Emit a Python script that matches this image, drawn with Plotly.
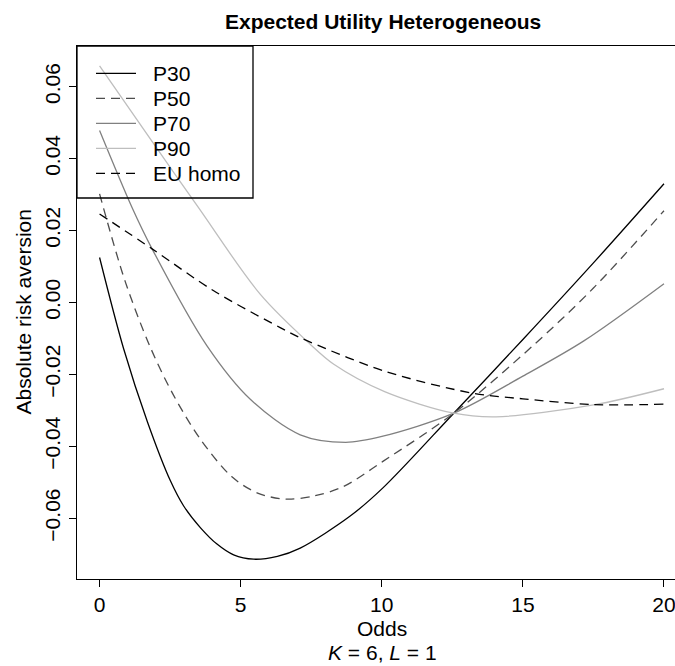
import plotly.graph_objects as go

# Absolute risk aversion against odds, read at a handful of odds values per curve
odds_p30 = [0, 0.85, 1.7, 2.51, 2.98, 3.57, 4.16, 4.75, 5.46, 6.3, 7.11, 8.88, 10.05, 12.55,
            15.0, 17.5, 20]
ara_p30 = [0.0125, -0.0128, -0.0333, -0.0496, -0.0566, -0.0626, -0.0672, -0.0702, -0.0714,
           -0.0706, -0.0683, -0.0594, -0.0515, -0.0308, -0.0103, 0.0110, 0.0330]

odds_p50 = [0, 0.9, 1.8, 2.6, 3.57, 4.69, 5.6, 6.6, 7.6, 8.64, 10.04, 12.55, 15.36, 17.5, 20]
ara_p50 = [0.0302, 0.0060, -0.0125, -0.0255, -0.0380, -0.0485, -0.0530, -0.0547, -0.0538,
           -0.0512, -0.0442, -0.0308, -0.0120, 0.0040, 0.0255]

odds_p70 = [0, 1.15, 1.86, 3.8, 5.35, 7.11, 8.72, 10.04, 12.55, 15.0, 17.16, 20]
ara_p70 = [0.0478, 0.0264, 0.0149, -0.0120, -0.0270, -0.0368, -0.0389, -0.0372, -0.0308,
           -0.0205, -0.0107, 0.0052]

odds_p90 = [0, 1.68, 3.5, 5.69, 7.46, 8.3, 10.1, 12.55, 14.05, 17.5, 20]
ara_p90 = [0.0658, 0.0468, 0.0264, 0.0023, -0.0116, -0.0172, -0.0248, -0.0308, -0.0318,
           -0.0285, -0.0240]

odds_eu = [0, 1.86, 4.03, 6.4, 7.11, 10.1, 13.2, 15.0, 17.5, 20]
ara_eu = [0.0246, 0.0149, 0.0033, -0.0070, -0.0098, -0.0191, -0.0252, -0.0268, -0.0284, -0.0283]

x_ticks = [0, 5, 10, 15, 20]
y_ticks = [-0.06, -0.04, -0.02, 0.00, 0.02, 0.04, 0.06]
y_tick_text = ["\u22120.06", "\u22120.04", "\u22120.02", "0.00", "0.02", "0.04", "0.06"]

FONT = "Liberation Sans, Arial, Helvetica, sans-serif"
FS = 21

series = [
    ("P30", odds_p30, ara_p30, "#000000", "solid"),
    ("P50", odds_p50, ara_p50, "#4d4d4d", "9px,6px"),
    ("P70", odds_p70, ara_p70, "#808080", "solid"),
    ("P90", odds_p90, ara_p90, "#bebebe", "solid"),
    ("EU homo", odds_eu, ara_eu, "#000000", "9px,6px"),
]

fig = go.Figure()
for name, xs, ys, color, dash in series:
    fig.add_trace(go.Scatter(
        x=xs, y=ys, name=name, mode="lines", showlegend=False,
        line=dict(color=color, width=1.3, dash=dash, shape="spline", smoothing=0.9),
    ))

# Plot area in pixels: left 77, top 46, bottom 579, right edge of the page
W, H = 675, 666
L, T, B = 77, 46, 87
PW, PH = W - L, H - T - B


def px_x(px):
    return (px - L) / PW


def px_y(py):
    return (H - B - py) / PH


# Legend drawn as an unfilled box with line samples and labels
shapes = [dict(type="rect", xref="paper", yref="paper", x0=0, x1=px_x(253),
               y0=px_y(198), y1=1, line=dict(color="black", width=1.3), layer="above")]
annotations = []
for i, (name, _, _, color, dash) in enumerate(series):
    yy = px_y(73.3 + 25 * i)
    shapes.append(dict(type="line", xref="paper", yref="paper", x0=px_x(96), x1=px_x(136),
                       y0=yy, y1=yy, line=dict(color=color, width=1.3, dash=dash)))
    annotations.append(dict(text=name, xref="paper", yref="paper", x=px_x(151), y=yy,
                            xanchor="left", yanchor="middle", showarrow=False,
                            font=dict(family=FONT, size=FS, color="black")))

annotations += [
    dict(text="<b>Expected Utility Heterogeneous</b>", xref="paper", yref="paper",
         x=px_x(383), y=px_y(21), xanchor="center", yanchor="middle", showarrow=False,
         font=dict(family=FONT, size=FS, color="black")),
    dict(text="Odds", xref="paper", yref="paper", x=px_x(382), y=px_y(628),
         xanchor="center", yanchor="middle", showarrow=False,
         font=dict(family=FONT, size=FS, color="black")),
    dict(text="<i>K</i> = 6, <i>L</i> = 1", xref="paper", yref="paper", x=px_x(382), y=px_y(652),
         xanchor="center", yanchor="middle", showarrow=False,
         font=dict(family=FONT, size=FS, color="black")),
    dict(text="Absolute risk aversion", xref="paper", yref="paper", x=px_x(23), y=0.5,
         xanchor="center", yanchor="middle", textangle=-90, showarrow=False,
         font=dict(family=FONT, size=FS, color="black")),
]

fig.update_layout(
    width=W, height=H,
    margin=dict(l=L, r=0, t=T, b=B),
    paper_bgcolor="white", plot_bgcolor="white",
    font=dict(family=FONT, size=FS, color="black"),
    showlegend=False,
    shapes=shapes,
    annotations=annotations,
    xaxis=dict(
        range=[-0.8, 20.39], tickvals=x_ticks, ticktext=[str(v) for v in x_ticks],
        showgrid=False, zeroline=False, showline=True, linecolor="black", linewidth=1.3,
        mirror=True, ticks="outside", ticklen=7, tickcolor="black", tickwidth=1,
        ticklabeloverflow="allow",
        tickfont=dict(family=FONT, size=FS, color="black"),
    ),
    yaxis=dict(
        range=[-0.0769, 0.0713], tickvals=y_ticks, ticktext=y_tick_text,
        showgrid=False, zeroline=False, showline=True, linecolor="black", linewidth=1.3,
        mirror=False, ticks="outside", ticklen=7, tickcolor="black", tickwidth=1,
        tickangle=-90, tickfont=dict(family=FONT, size=FS, color="black"),
    ),
)

fig.write_html("out.html")
